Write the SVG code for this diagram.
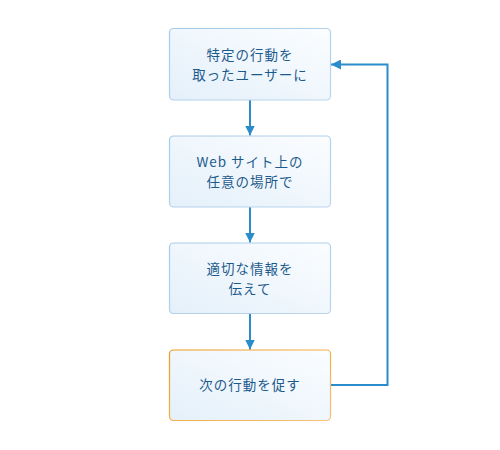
<svg xmlns="http://www.w3.org/2000/svg" width="500" height="450" viewBox="0 0 500 450">
  <defs>
    <linearGradient id="fill" x1="0" y1="1" x2="1" y2="0">
      <stop offset="0" stop-color="#e4f0fa"/>
      <stop offset="1" stop-color="#fbfdff"/>
    </linearGradient>
    <linearGradient id="strokeBlue" x1="0" y1="0" x2="1" y2="1">
      <stop offset="0" stop-color="#a8cae6"/>
      <stop offset="1" stop-color="#bcd6ec"/>
    </linearGradient>
    <linearGradient id="strokeOrange" x1="0" y1="0" x2="1" y2="1">
      <stop offset="0" stop-color="#f09a1a"/>
      <stop offset="1" stop-color="#f7c27a"/>
    </linearGradient>
    <marker id="arrow" viewBox="0 0 10 10" refX="10" refY="5" markerWidth="5" markerHeight="5" orient="auto" markerUnits="strokeWidth">
      <path d="M0,0 L10,5 L0,10 Z" fill="#2b8ccc"/>
    </marker>
  </defs>
  <style>
    .box { fill: url(#fill); stroke: url(#strokeBlue); stroke-width: 1.2; }
    .box.accent { stroke: url(#strokeOrange); }
    .label { font-family: "Noto Sans CJK JP", "Noto Sans", sans-serif; font-size: 13.5px; fill: #1d5a8c; text-anchor: middle; letter-spacing: 1px; }
    .edge { fill: none; stroke: #2b8ccc; stroke-width: 2; }
  </style>
  <g id="connectors">
    <line class="edge" x1="250" y1="100" x2="250" y2="135.5" marker-end="url(#arrow)"/>
    <line class="edge" x1="250" y1="207" x2="250" y2="242.5" marker-end="url(#arrow)"/>
    <line class="edge" x1="250" y1="313.5" x2="250" y2="349.5" marker-end="url(#arrow)"/>
    <polyline class="edge" points="330.5,385 387.5,385 387.5,64.5 331,64.5" marker-end="url(#arrow)"/>
  </g>
  <g id="node1">
    <rect class="box" x="169.5" y="28.5" width="161" height="71.5" rx="4"/>
    <text class="label" x="250" y="60">特定の行動を</text>
    <text class="label" x="250" y="80">取ったユーザーに</text>
  </g>
  <g id="node2">
    <rect class="box" x="169.5" y="136" width="161" height="71" rx="4"/>
    <text class="label" x="250" y="167">Web サイト上の</text>
    <text class="label" x="250" y="187">任意の場所で</text>
  </g>
  <g id="node3">
    <rect class="box" x="169.5" y="243" width="161" height="70.5" rx="4"/>
    <text class="label" x="250" y="274">適切な情報を</text>
    <text class="label" x="250" y="294">伝えて</text>
  </g>
  <g id="node4">
    <rect class="box accent" x="169.5" y="350" width="161" height="70.5" rx="4"/>
    <text class="label" x="250" y="390">次の行動を促す</text>
  </g>
</svg>
